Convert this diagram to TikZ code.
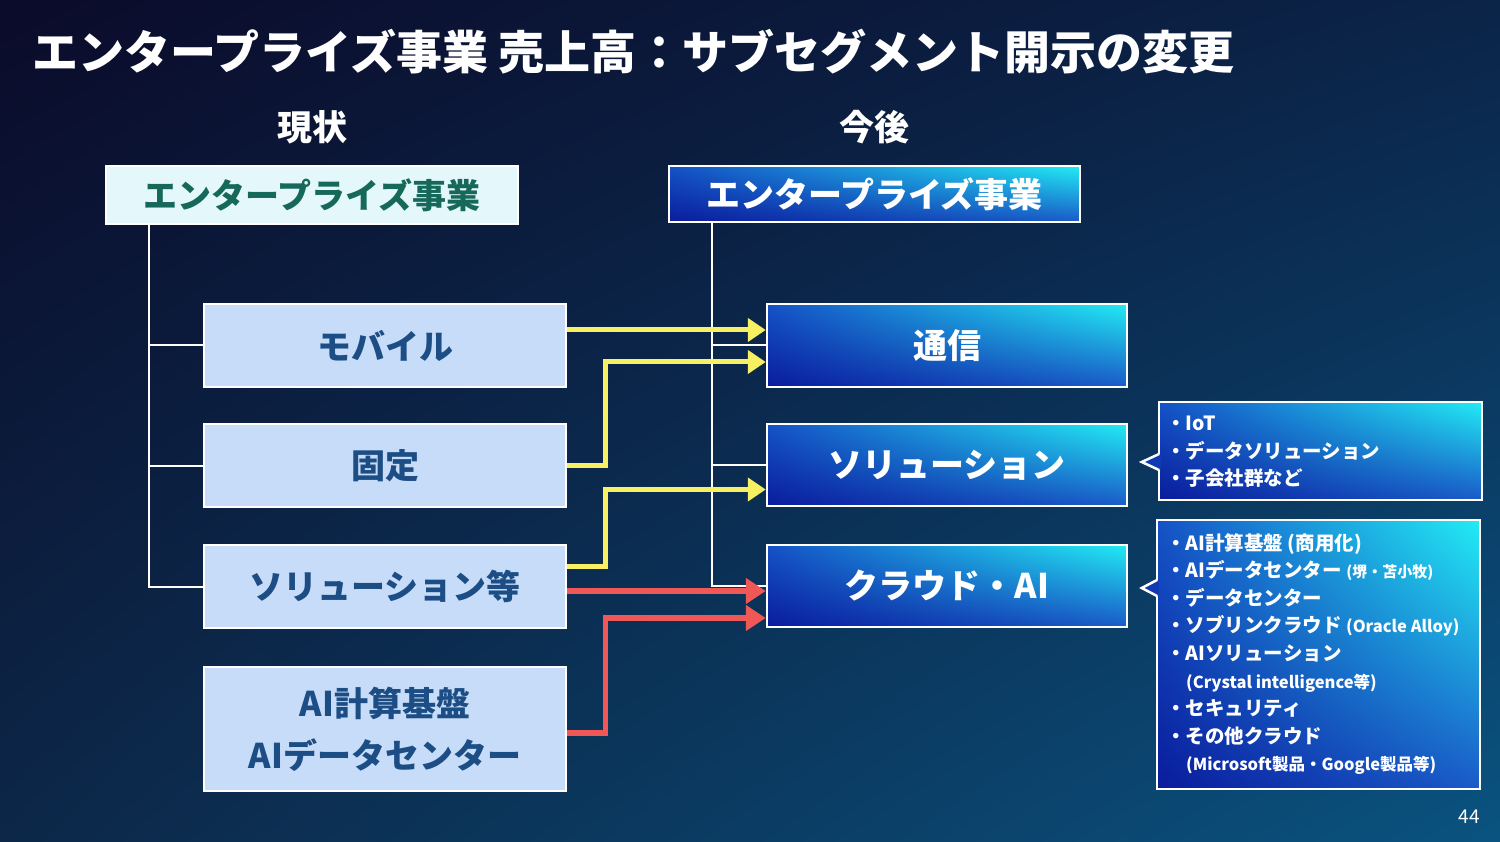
\documentclass[tikz,border=0pt]{standalone}
\usepackage{fontspec}
\setmainfont{Noto Sans CJK JP}
\usetikzlibrary{arrows.meta,calc,shadings}
\definecolor{bgTL}{HTML}{0B0B2A}
\definecolor{bgTR}{HTML}{0B2448}
\definecolor{bgLL}{HTML}{0C2748}
\definecolor{bgLR}{HTML}{0A5380}
\definecolor{bUL}{HTML}{1552C6}
\definecolor{bUR}{HTML}{22ECF4}
\definecolor{bLL}{HTML}{0A1C9C}
\definecolor{bLR}{HTML}{1A5AC8}
\definecolor{ptrc}{HTML}{0F3AB4}
\definecolor{lfill}{HTML}{C7DCF8}
\definecolor{ltext}{HTML}{1C4D84}
\definecolor{hfill}{HTML}{E4F7FB}
\definecolor{htext}{HTML}{16695A}
\definecolor{yel}{HTML}{F6F062}
\definecolor{redc}{HTML}{F05858}
\begin{document}
\begin{tikzpicture}[x=1pt,y=-1pt,
  bigtxt/.style={font=\bfseries\fontsize{34}{40}\selectfont},
  lbox/.style={draw=white, line width=2.5pt, fill=lfill, text=ltext, bigtxt, minimum width=362pt, minimum height=83pt, inner sep=0pt},
  bluefill/.style={upper left=bUL, upper right=bUR, lower left=bLL, lower right=bLR},
  rbox/.style={draw=white, line width=2.5pt, bluefill, text=white, bigtxt, minimum width=360pt, minimum height=82pt, inner sep=0pt},
  tree/.style={draw=white, line width=2pt},
  ya/.style={draw=yel, line width=5pt, -{Triangle[length=18pt,width=23pt]}},
  ra/.style={draw=redc, line width=5.5pt, -{Triangle[length=20pt,width=25pt]}},
  callbox/.style={draw=white, line width=2.5pt, bluefill, minimum width=323pt, inner sep=0pt},
  calltxt/.style={anchor=north west, inner sep=0pt, align=left, text=white, font=\bfseries\fontsize{19.5}{27.6}\selectfont}
]
\useasboundingbox (0,0) rectangle (1500,842);
\shade[upper left=bgTL, upper right=bgTR, lower left=bgLL, lower right=bgLR] (0,0) rectangle (1500,842);

% title and headings
\node[anchor=west, inner sep=0pt, text=white, font=\bfseries\fontsize{46}{50}\selectfont] (title) at (32,52) {エンタープライズ事業 売上高：サブセグメント開示の変更};
\node[text=white, inner sep=0pt, font=\bfseries\fontsize{35}{40}\selectfont] (now) at (312,127) {現状};
\node[text=white, inner sep=0pt, font=\bfseries\fontsize{35}{40}\selectfont] (fut) at (874,127) {今後};

% left side
\node[draw=white, line width=2.5pt, fill=hfill, text=htext, bigtxt, minimum width=412pt, minimum height=58pt, inner sep=0pt] (lh) at (312,195) {エンタープライズ事業};
\node[lbox] (mob) at (385,345.5) {モバイル};
\node[lbox] (kot) at (385,465.5) {固定};
\node[lbox] (sol) at (385,586.5) {ソリューション等};
\node[lbox, minimum height=124pt, align=center, font=\bfseries\fontsize{34}{52}\selectfont] (ai) at (385,729) {AI計算基盤\\AIデータセンター};

% right side
\node[draw=white, line width=2.5pt, bluefill, text=white, bigtxt, minimum width=411pt, minimum height=56pt, inner sep=0pt] (rh) at (874.5,194) {エンタープライズ事業};
\node[rbox, minimum height=83pt] (tsu) at (947,345.5) {通信};
\node[rbox] (srv) at (947,465) {ソリューション};
\node[rbox] (cld) at (947,586) {クラウド・AI};

% tree lines
\draw[tree] ($(lh.south west)+(44,0)$) coordinate (lv) |- (sol.west);
\draw[tree] (lv |- mob.west) -- (mob.west);
\draw[tree] (lv |- kot.west) -- (kot.west);
\draw[tree] ($(rh.south west)+(44,0)$) coordinate (rv) |- (cld.west);
\draw[tree] (rv |- tsu.west) -- (tsu.west);
\draw[tree] (rv |- srv.west) -- (srv.west);

% arrows
\draw[ya] ($(mob.east)+(0,-15.5)$) -- ($(tsu.west)+(0,-15.5)$);
\draw[ya] (kot.east) -- ++(38,0) |- ($(tsu.west)+(0,16.5)$);
\draw[ya] ($(sol.east)+(0,-20.5)$) -- ++(38,0) |- ($(srv.west)+(0,24.5)$);
\draw[ra] ($(sol.east)+(0,4.5)$) -- ($(cld.west)+(0,5)$);
\draw[ra] ($(ai.east)+(0,4)$) -- ++(38,0) |- ($(cld.west)+(0,32)$);

% callout 1
\node[callbox, minimum height=98pt] (c1) at (1320.5,451) {};
\coordinate (p1) at ($(c1.west)+(-16,11)$);
\fill[ptrc] ($(c1.west)+(3,3)$) -- (p1) -- ($(c1.west)+(3,19)$) -- cycle;
\draw[white, line width=2.5pt, line join=miter] ($(c1.west)+(1.25,3)$) -- (p1) -- ($(c1.west)+(1.25,19)$);
\node[calltxt] (t1) at (1166,416) {・IoT\\・データソリューション\\・子会社群など};

% callout 2
\node[callbox, minimum height=269pt] (c2) at (1318.5,654.5) {};
\coordinate (p2) at ($(c2.west)+(-14,-66.5)$);
\fill[ptrc] ($(c2.west)+(3,-74.5)$) -- (p2) -- ($(c2.west)+(3,-58.5)$) -- cycle;
\draw[white, line width=2.5pt, line join=miter] ($(c2.west)+(1.25,-74.5)$) -- (p2) -- ($(c2.west)+(1.25,-58.5)$);
\node[calltxt] (t2) at (1166,533) {・AI計算基盤 (商用化)\\
・AIデータセンター {\fontsize{15}{27.6}\selectfont(堺・苫小牧)}\\
・データセンター\\
・ソブリンクラウド {\fontsize{16.5}{27.6}\selectfont(Oracle Alloy)}\\
・AIソリューション\\
\hspace*{20pt}{\fontsize{16.5}{27.6}\selectfont(Crystal intelligence等)}\\
・セキュリティ\\
・その他クラウド\\
\hspace*{20pt}{\fontsize{16.5}{27.6}\selectfont(Microsoft製品・Google製品等)}};

% page number
\node[text=white, inner sep=0pt, font=\fontsize{19}{22}\selectfont] (pg) at (1469,817) {44};
\end{tikzpicture}
\end{document}
